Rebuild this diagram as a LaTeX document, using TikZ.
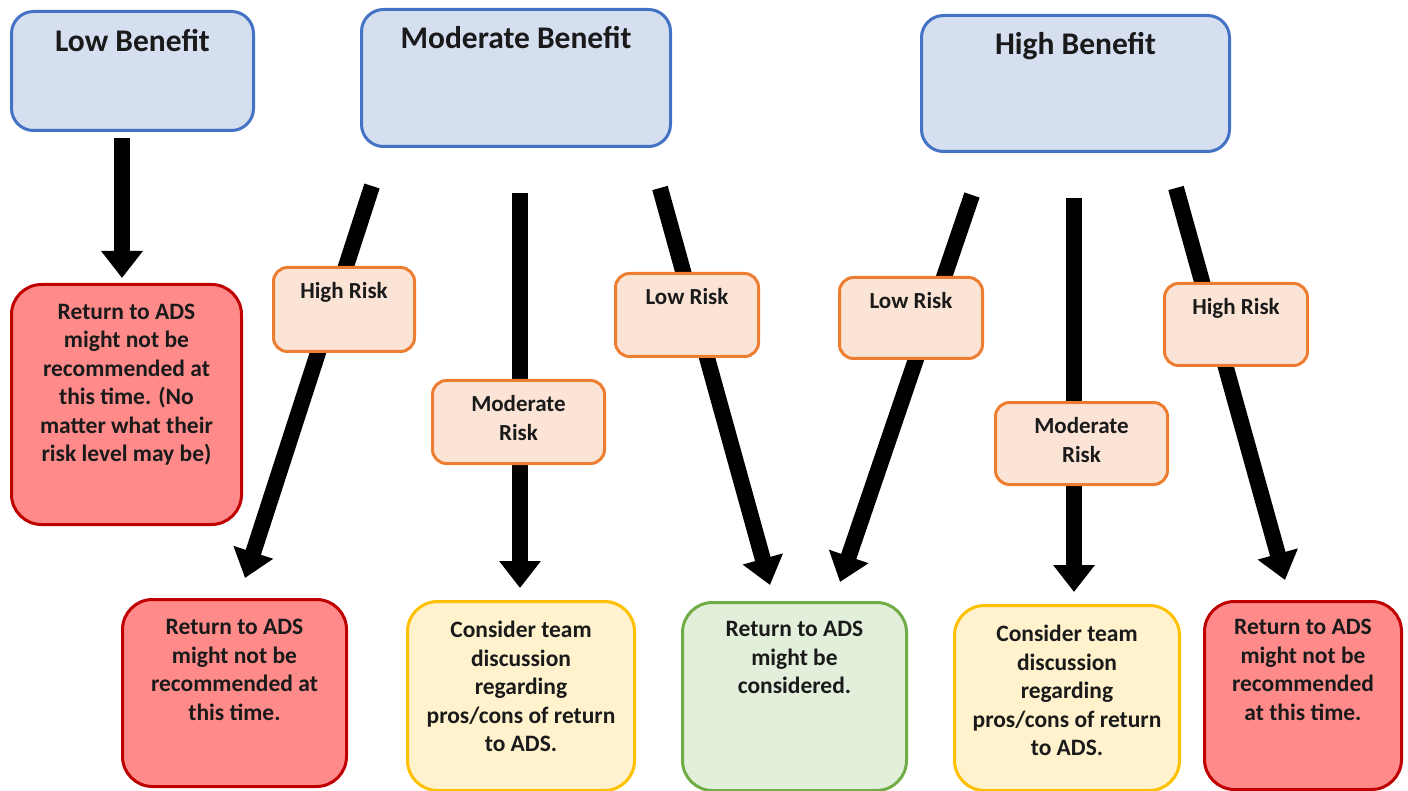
\documentclass[tikz,border=0pt]{standalone}
\usepackage{fontspec}
\setmainfont{Carlito}
\usetikzlibrary{arrows.meta}
\definecolor{bfill}{HTML}{D5DFF0}
\definecolor{bdraw}{HTML}{4472C4}
\definecolor{ofill}{HTML}{FBE4D5}
\definecolor{odraw}{HTML}{ED7D31}
\definecolor{rfill}{HTML}{FF8A8A}
\definecolor{rdraw}{HTML}{C00000}
\definecolor{yfill}{HTML}{FFF2CC}
\definecolor{ydraw}{HTML}{FFC000}
\definecolor{gfill}{HTML}{E2EFDA}
\definecolor{gdraw}{HTML}{70AD47}
\definecolor{txt}{HTML}{1A1A1A}
\newcommand\bxt[4]{\parbox[t][#2][t]{#1}{\centering\rule{0pt}{#3}#4}}
\tikzset{
  box/.style={line width=3pt, inner sep=0pt, anchor=north west, text=txt},
  benefit/.style={box, draw=bdraw, fill=bfill, rounded corners=22pt,
    font=\fontsize{31.5}{36}\selectfont\bfseries},
  risk/.style={box, draw=odraw, fill=ofill, rounded corners=14pt,
    font=\fontsize{23}{29}\selectfont\bfseries},
  outred/.style={box, draw=rdraw, fill=rfill, rounded corners=30pt,
    font=\fontsize{23.5}{28.5}\selectfont\bfseries},
  outyel/.style={box, draw=ydraw, fill=yfill, rounded corners=30pt,
    font=\fontsize{23.5}{28.5}\selectfont\bfseries},
  outgrn/.style={box, draw=gdraw, fill=gfill, rounded corners=30pt,
    font=\fontsize{23.5}{28.5}\selectfont\bfseries},
  arr/.style={line width=16pt, black, -{Triangle[width=40pt,length=27pt]}}
}
\begin{document}
\begin{tikzpicture}[x=1pt,y=-1pt]
\useasboundingbox (0,0) rectangle (1408,791);
% benefit boxes
\node[benefit] (lb) at (10,10) {\bxt{242pt}{119pt}{40pt}{Low Benefit}};
\node[benefit] (mb) at (360,8) {\bxt{309pt}{137pt}{39pt}{Moderate Benefit}};
\node[benefit] (hb) at (920,14) {\bxt{308pt}{136pt}{39pt}{High Benefit}};
% outcome boxes
\node[outred] (o0) at (10,283) {\bxt{230pt}{240pt}{35pt}{Return to ADS\\might not be\\recommended at\\this time. (No\\matter what their\\risk level may be)}};
\node[outred] (o1) at (121,598) {\bxt{224pt}{187pt}{35pt}{Return to ADS\\might not be\\recommended at\\this time.}};
\node[outyel] (o2) at (406,600) {\bxt{227pt}{189pt}{36pt}{Consider team\\discussion\\regarding\\pros/cons of return\\to ADS.}};
\node[outgrn] (o3) at (681,601) {\bxt{224pt}{188pt}{34pt}{Return to ADS\\might be\\considered.}};
\node[outyel] (o4) at (953,604) {\bxt{225pt}{185pt}{36pt}{Consider team\\discussion\\regarding\\pros/cons of return\\to ADS.}};
\node[outred] (o5) at (1203,600) {\bxt{197pt}{188pt}{33pt}{Return to ADS\\might not be\\recommended\\at this time.}};
% connector end points
\coordinate (s0) at (122,138); \coordinate (e0) at (122,278);
\coordinate (s1) at (372,186); \coordinate (e1) at (245,578);
\coordinate (s2) at (520,193); \coordinate (e2) at (520,588);
\coordinate (s3) at (660,188); \coordinate (e3) at (770,585);
\coordinate (s4) at (972,195); \coordinate (e4) at (840,582);
\coordinate (s5) at (1074,198); \coordinate (e5) at (1074,592);
\coordinate (s6) at (1176,188); \coordinate (e6) at (1285,580);
\draw[arr] (s0) -- (e0);
\draw[arr] (s1) -- (e1);
\draw[arr] (s2) -- (e2);
\draw[arr] (s3) -- (e3);
\draw[arr] (s4) -- (e4);
\draw[arr] (s5) -- (e5);
\draw[arr] (s6) -- (e6);
% risk boxes
\node[risk] (r1) at (272,266) {\bxt{141pt}{84pt}{31pt}{High Risk}};
\node[risk] (r2) at (431,379) {\bxt{172pt}{83pt}{31pt}{Moderate\\Risk}};
\node[risk] (r3) at (614,272) {\bxt{143pt}{83pt}{31pt}{Low Risk}};
\node[risk] (r4) at (838,276) {\bxt{143pt}{81pt}{31pt}{Low Risk}};
\node[risk] (r5) at (994,401) {\bxt{172pt}{82pt}{31pt}{Moderate\\Risk}};
\node[risk] (r6) at (1163,282) {\bxt{143pt}{82pt}{31pt}{High Risk}};
\end{tikzpicture}
\end{document}
